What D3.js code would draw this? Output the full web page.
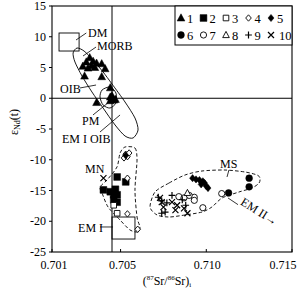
<!DOCTYPE html>
<html><head><meta charset="utf-8">
<script src="https://cdn.jsdelivr.net/npm/d3@7"></script>
<style>body{margin:0;background:#fff}svg{display:block}text{font-family:"Liberation Serif","DejaVu Serif",serif;fill:#000}</style>
</head><body><svg id="c" width="304" height="295"></svg>
<script>
// ---- data ----
const xTicks = [0.701, 0.705, 0.710, 0.715];
const xTickLabels = ["0.701", "0.705", "0.710", "0.715"];
const yTicks = [15, 10, 5, 0, -5, -10, -15, -20, -25];
const bulkEarthSr = 0.7045;
const bulkEarthNd = 0;

const type1 = [[0.7032,6.6],[0.7030,5.9],[0.7034,6.0],[0.7036,5.7],[0.7039,5.6],[0.7041,4.8],[0.7028,5.2],[0.7031,4.9],[0.7035,5.0],[0.7033,5.3],[0.7029,3.6],[0.7039,3.5],[0.7044,1.7],[0.7036,-0.7],[0.7044,0.2],[0.7045,0.0],[0.7046,-0.3],[0.7044,-0.4],[0.7047,-0.2],[0.7045,0.4]];
const type2 = [[0.7048,-12.8],[0.7053,-13.6],[0.7040,-14.9],[0.7044,-15.2],[0.7047,-14.8],[0.7046,-15.7],[0.7048,-15.7],[0.7046,-16.5],[0.7048,-16.9]];
const type3 = [[0.7046,-17.4],[0.7048,-18.7]];
const type4 = [[0.7053,-9.1],[0.7054,-9.5],[0.7052,-9.7],[0.7055,-8.9],[0.7054,-13.0],[0.7054,-18.8],[0.7060,-21.3]];
const type5 = [[0.7053,-9.3],[0.7092,-13.0],[0.7096,-13.3],[0.7099,-13.8],[0.7100,-14.3],[0.7097,-14.0],[0.7098,-13.5],[0.7101,-14.6],[0.7094,-13.2]];
const type6 = [[0.7125,-13.0],[0.7125,-14.4],[0.7113,-15.4]];
const type7 = [[0.7109,-15.5],[0.7098,-17.8],[0.7093,-16.1],[0.7090,-15.8],[0.7084,-16.0],[0.7093,-16.6],[0.7087,-16.2]];
const type8 = [[0.7089,-15.4]];
const type9 = [[0.7072,-16.1],[0.7080,-15.8],[0.7077,-17.0],[0.7076,-18.5],[0.7074,-18.7],[0.7086,-16.5],[0.7088,-17.4],[0.7074,-16.7]];
const type10 = [[0.7040,-13.0],[0.7073,-16.2],[0.7074,-16.9],[0.7075,-17.7],[0.7083,-17.4],[0.7087,-17.9],[0.7089,-18.7],[0.7082,-18.2],[0.7080,-16.9]];

// field outlines
const fieldMorbOib = [[0.70246,8.17],[0.70287,7.68],[0.70339,6.22],[0.70398,4.27],[0.7045,2.32],[0.70526,-0.61],[0.70584,-3.21],[0.70602,-5.16],[0.70573,-6.46],[0.70526,-6.14],[0.70468,-4.35],[0.70398,-1.59],[0.70333,1.02],[0.70275,3.62],[0.70234,5.89],[0.70223,7.36]];
const fieldPM = [[0.70392,1.34],[0.70438,1.83],[0.70473,0.85],[0.70473,-0.77],[0.70438,-1.59],[0.70398,-1.1],[0.7038,0.2]];
const fieldMN = [[0.70526,-7.93],[0.70584,-8.09],[0.70596,-10.04],[0.70584,-14.92],[0.70596,-19.31],[0.70613,-20.93],[0.70601,-21.75],[0.70555,-21.42],[0.70497,-19.8],[0.70427,-17.68],[0.70392,-15.41],[0.7038,-14.43],[0.70421,-13.29],[0.70479,-11.18],[0.70497,-8.9]];
const fieldMS = [[0.70701,-15.24],[0.70783,-13.78],[0.70876,-12.48],[0.70975,-11.83],[0.71109,-11.67],[0.71226,-11.99],[0.71296,-12.48],[0.71313,-12.97],[0.71308,-13.78],[0.71267,-14.59],[0.71191,-15.24],[0.71092,-16.22],[0.71033,-17.68],[0.70975,-18.5],[0.70876,-18.98],[0.70783,-19.31],[0.70713,-18.98],[0.70672,-17.68]];
const boxDM = [[0.70141,10.61],[0.70258,7.68]];
const boxEM1 = [[0.7045,-19.31],[0.70584,-22.89]];

const labels = ["DM","MORB","OIB","PM","EM I OIB","MN","EM I","MS"];
const labelPos = [[0.7031,9.96],[0.70363,7.85],[0.70147,0.85],[0.70275,-4.35],[0.70158,-7.28],[0.70293,-12.15],[0.70252,-21.75],[0.7108,-11.34]];
const leaders = [
  [[0.7024,9.47],[0.7030,10.61]],
  [[0.70281,6.87],[0.70357,8.33]],
  [[0.70263,1.67],[0.70357,2.15]],
  [[0.70339,-2.72],[0.70433,-0.61]],
  [[0.7038,-5.49],[0.70497,-2.72]],
  [[0.7038,-20.93],[0.70456,-20.93]],
  [[0.71132,-11.67],[0.71121,-12.8]],
  [[0.71127,-16.22],[0.71185,-17.3]]
];
const em2Pos = [0.71195,-17.2];

const legendTypes = [1,2,3,4,5,6,7,8,9,10];

// ---- chart ----
const svg = d3.select("#c");
const L=52,R=292,T=6,B=252;
const x = d3.scaleLinear().domain([0.701,0.715]).range([L,R]);
const y = d3.scaleLinear().domain([-25,15]).range([B,T]);

function sym(t){
  switch(t){
    case 1: return `M0,-4.2L3.9,3L-3.9,3Z`;
    case 8: return `M0,-3.6L3.3,2.6L-3.3,2.6Z`;
    case 2: return `M-3.4,-3.4h6.8v6.8h-6.8Z`;
    case 3: return `M-2.8,-2.8h5.6v5.6h-5.6Z`;
    case 4: return `M0,-3.2L2.8,0L0,3.2L-2.8,0Z`;
    case 5: return `M0,-3.6L3,0L0,3.6L-3,0Z`;
    case 6: return d3.arc()({innerRadius:0,outerRadius:3.4,startAngle:0,endAngle:2*Math.PI});
    case 7: return d3.arc()({innerRadius:0,outerRadius:3.1,startAngle:0,endAngle:2*Math.PI});
    case 9: return `M-3.4,0H3.4M0,-3.4V3.4`;
    case 10: return `M-3,-3L3,3M3,-3L-3,3`;
  }
}
function style(sel,t){
  const filled=[1,2,5,6].includes(t);
  const line=[9,10].includes(t);
  sel.attr("d",sym(t))
    .attr("fill", line?"none":(filled?"#000":"#fff"))
    .attr("stroke","#000").attr("stroke-width", line?1.2:(filled?0.5:0.9));
}

// frame
svg.append("rect").attr("x",L).attr("y",T).attr("width",R-L).attr("height",B-T)
  .attr("fill","none").attr("stroke","#000").attr("stroke-width",1.1);
svg.append("line").attr("x1",x(bulkEarthSr)).attr("x2",x(bulkEarthSr)).attr("y1",T).attr("y2",B).attr("stroke","#000").attr("stroke-width",1);
svg.append("line").attr("x1",L).attr("x2",R).attr("y1",y(bulkEarthNd)).attr("y2",y(bulkEarthNd)).attr("stroke","#000").attr("stroke-width",1);

// axes
const gy = svg.append("g");
yTicks.forEach(v=>{
  gy.append("line").attr("x1",L-3).attr("x2",L).attr("y1",y(v)).attr("y2",y(v)).attr("stroke","#000");
  gy.append("text").attr("x",L-6).attr("y",y(v)+4).attr("text-anchor","end").attr("font-size",12).text(v);
});
const gx = svg.append("g");
const xLabOff = [2, 2, 1, -9];
xTicks.forEach((v,i)=>{
  gx.append("line").attr("x1",x(v)).attr("x2",x(v)).attr("y1",B).attr("y2",B-3).attr("stroke","#000");
  gx.append("text").attr("x",x(v)+xLabOff[i]).attr("y",B+17).attr("text-anchor","middle").attr("font-size",12).text(xTickLabels[i]);
});
// axis titles
const xt = svg.append("text").attr("x",167).attr("y",285).attr("text-anchor","middle").attr("font-size",12);
xt.append("tspan").text("(");
xt.append("tspan").attr("font-size",7).attr("dy",-5).text("87");
xt.append("tspan").attr("dy",5).text("Sr/");
xt.append("tspan").attr("font-size",7).attr("dy",-5).text("86");
xt.append("tspan").attr("dy",5).text("Sr)");
xt.append("tspan").attr("font-size",7).attr("dy",2).text("i");
const yt = svg.append("text").attr("transform","translate(18,122) rotate(-90)").attr("text-anchor","middle").attr("font-size",12);
yt.append("tspan").text("ε");
yt.append("tspan").attr("font-size",8).attr("dy",2).text("Nd");
yt.append("tspan").attr("dy",-2).text("(t)");

// fields
const lineC = d3.line().x(d=>x(d[0])).y(d=>y(d[1])).curve(d3.curveCardinalClosed.tension(0.2));
svg.append("path").attr("d",lineC(fieldMorbOib)).attr("fill","none").attr("stroke","#000").attr("stroke-width",0.9);
svg.append("path").attr("d",lineC(fieldPM)).attr("fill","none").attr("stroke","#000").attr("stroke-width",0.9);
[fieldMN,fieldMS].forEach(f=>svg.append("path").attr("d",lineC(f)).attr("fill","none").attr("stroke","#000").attr("stroke-width",0.9).attr("stroke-dasharray","3.5,2.2"));
[boxDM,boxEM1].forEach(b=>svg.append("rect").attr("x",x(b[0][0])).attr("y",y(b[0][1])).attr("width",x(b[1][0])-x(b[0][0])).attr("height",y(b[1][1])-y(b[0][1])).attr("fill","none").attr("stroke","#000").attr("stroke-width",0.9));

// leaders
leaders.forEach(l=>svg.append("line").attr("x1",x(l[0][0])).attr("y1",y(l[0][1])).attr("x2",x(l[1][0])).attr("y2",y(l[1][1])).attr("stroke","#000").attr("stroke-width",0.8));

// points
const series = [type1,type2,type3,type4,type5,type6,type7,type8,type9,type10];
series.forEach((s,i)=>{
  svg.append("g").selectAll("path").data(s).join("path")
    .attr("transform",d=>`translate(${x(d[0])},${y(d[1])})`)
    .call(sel=>style(sel,i+1));
});

// labels
labels.forEach((t,i)=>svg.append("text").attr("x",x(labelPos[i][0])).attr("y",y(labelPos[i][1])).attr("font-size",12).text(t));
svg.append("text").attr("transform",`translate(${x(em2Pos[0])},${y(em2Pos[1])}) rotate(32)`).attr("font-size",12).text("EM II→");

// legend
const lg = svg.append("g");
lg.append("rect").attr("x",175).attr("y",T).attr("width",R-175).attr("height",39).attr("fill","#fff").attr("stroke","#000").attr("stroke-width",1);
legendTypes.forEach((t,i)=>{
  const row=Math.floor(i/5), col=i%5;
  const sx=181+col*22.5, sy=18+row*17;
  lg.append("path").attr("transform",`translate(${sx},${sy})`).call(sel=>style(sel,t));
  lg.append("text").attr("x",sx+(t===10?8:6)).attr("y",sy+4.5).attr("font-size",12.5).text(t);
});
</script></body></html>
